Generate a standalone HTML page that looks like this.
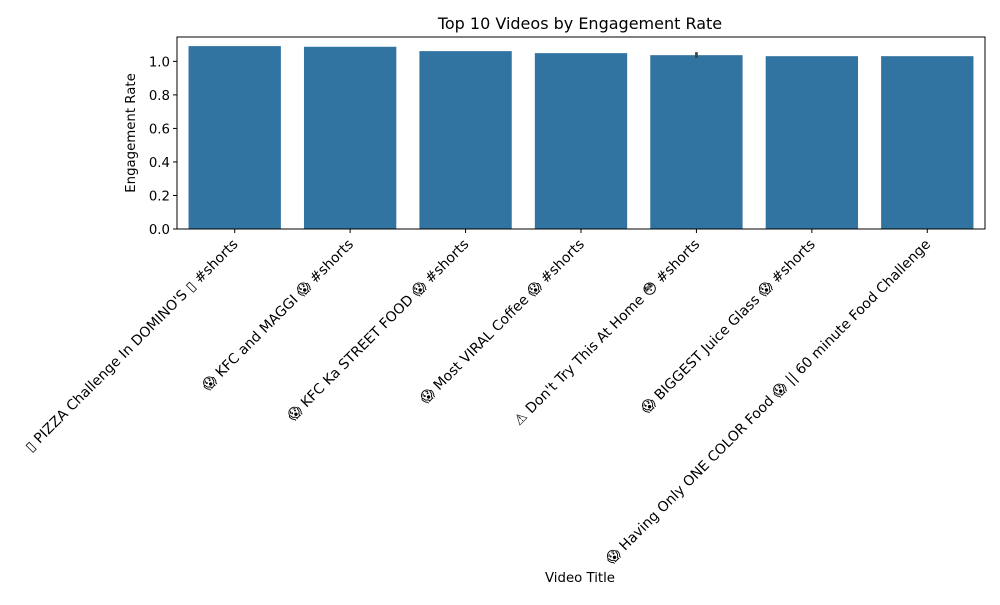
<!DOCTYPE html>
<html><head><meta charset="utf-8"><style>body{margin:0;background:#fff}svg text{font-family:"DejaVu Sans","Liberation Sans","Noto Sans CJK SC",sans-serif;fill:#000}</style></head>
<body>
<svg id="chart" width="1000" height="600" viewBox="0 0 1000 600" xmlns="http://www.w3.org/2000/svg">
<rect width="1000" height="600" fill="#fff"/>
<text x="580" y="29" font-size="16" text-anchor="middle">Top 10 Videos by Engagement Rate</text>
<g id="plot"></g>
<text x="580" y="582" font-size="13.3" text-anchor="middle">Video Title</text>
<text transform="translate(135,133) rotate(-90)" font-size="13.3" text-anchor="middle">Engagement Rate</text>
</svg>
<script>
const categories = ["▯ PIZZA Challenge In DOMINO'S ▯ #shorts","😱 KFC and MAGGI 😱 #shorts","😱 KFC Ka STREET FOOD 😱 #shorts","😱 Most VIRAL Coffee 😱 #shorts","⚠ Don't Try This At Home 😳 #shorts","😱 BIGGEST Juice Glass 😱 #shorts","😱 Having Only ONE COLOR Food 😱 || 60 minute Food Challenge"];
const values = [1.091, 1.087, 1.061, 1.049, 1.037, 1.031, 1.031];
const errLow = [null, null, null, null, 1.02, null, null];
const errHigh = [null, null, null, null, 1.055, null, null];
const yTicks = [0.0, 0.2, 0.4, 0.6, 0.8, 1.0];
const yTickLabels = ["0.0","0.2","0.4","0.6","0.8","1.0"];

const NS="http://www.w3.org/2000/svg";
const g=document.getElementById('plot');
const L=177,R=985,T=37,B=229;
const yMax=1.1453;
const y=v=>B-(v/yMax)*(B-T);
const band=(R-L)/categories.length;
const x=i=>L+band*(i+0.5);
function mk(t,a){const e=document.createElementNS(NS,t);for(const k in a)e.setAttribute(k,a[k]);g.appendChild(e);return e;}
values.forEach((v,i)=>{
  const r=mk('rect',{x:x(i)-band*0.4,y:y(v),width:band*0.8,height:B-y(v),fill:'#3274a1'});
  
  
  if(errLow[i]!==null){
    const l=mk('line',{x1:x(i),x2:x(i),y1:y(errHigh[i]),y2:y(errLow[i]),stroke:'#424242','stroke-width':2.7});
    
    
  }
});
const frame=mk('rect',{x:L,y:T,width:R-L,height:B-T,fill:'none',stroke:'#000','stroke-width':1});


yTicks.forEach((t,i)=>{
  mk('line',{x1:L-4,x2:L,y1:y(t),y2:y(t),stroke:'#000'});
  const tx=mk('text',{x:L-7,y:y(t)+5,'font-size':13.3,'text-anchor':'end'});
  tx.textContent=yTickLabels[i];
  
  
});
categories.forEach((c,i)=>{
  mk('line',{x1:x(i),x2:x(i),y1:B,y2:B+4,stroke:'#000'});
  const tx=mk('text',{transform:`translate(${x(i)+4},${B+16}) rotate(-45)`,'font-size':14,'text-anchor':'end'});
  tx.textContent=c;
  
  
});
</script>
</body></html>
